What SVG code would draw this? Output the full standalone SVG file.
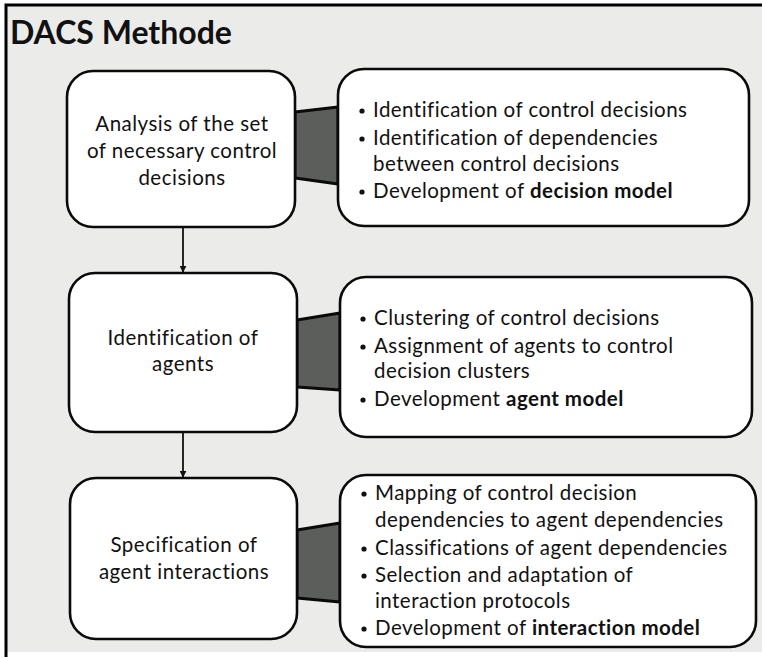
<svg xmlns="http://www.w3.org/2000/svg" width="762" height="659" viewBox="0 0 762 659">
  <defs>
    <style>
      .frame { fill: #ebebea; }
      .edge { stroke: #000; stroke-width: 3; fill: none; }
      .box { fill: #ffffff; stroke: #0a0a0a; stroke-width: 2.6; }
      .link { fill: #5b5e5a; stroke: #0a0a0a; stroke-width: 3; stroke-linejoin: round; }
      .flow { stroke: #111; stroke-width: 1.8; fill: none; }
      text { font-family: Lato, "Open Sans", "Liberation Sans", sans-serif; fill: #111; }
      .title { font-size: 32px; font-weight: bold; }
      .step { font-size: 20.5px; letter-spacing: 0.5px; text-anchor: middle; }
      .item { font-size: 20.5px; letter-spacing: 0.45px; }
      .b { font-weight: bold; }
      .dot { fill: #111; }
    </style>
    <marker id="head" viewBox="0 0 10 10" refX="9" refY="5" markerWidth="7" markerHeight="7" orient="auto" markerUnits="userSpaceOnUse">
      <path d="M0,0 L10,5 L0,10 z" fill="#111"/>
    </marker>
  </defs>

  <!-- slide area -->
  <rect class="frame" x="6" y="5" width="756" height="647"/>
  <path class="edge" d="M6,657 L6,5 L762,5"/>

  <text class="title" x="10" y="44">DACS Methode</text>

  <!-- arrows between steps -->
  <g id="connectors">
    <line class="flow" x1="183" y1="228" x2="183" y2="272" marker-end="url(#head)"/>
    <line class="flow" x1="183" y1="433" x2="183" y2="477" marker-end="url(#head)"/>
  </g>

  <!-- step 1 -->
  <g id="step1">
    <polygon class="link" points="295,112 338,107 338,184 295,178"/>
    <rect class="box" x="67" y="71" width="228" height="156" rx="26"/>
    <text class="step" x="182" y="131">Analysis of the set</text>
    <text class="step" x="182" y="158">of necessary control</text>
    <text class="step" x="182" y="185">decisions</text>
  </g>
  <g id="details1">
    <rect class="box" x="338" y="69" width="411" height="157" rx="26"/>
    <circle class="dot" cx="362" cy="111" r="2.6"/>
    <text class="item" x="373" y="117">Identification of control decisions</text>
    <circle class="dot" cx="362" cy="139" r="2.6"/>
    <text class="item" x="373" y="145">Identification of dependencies</text>
    <text class="item" x="373" y="171">between control decisions</text>
    <circle class="dot" cx="362" cy="192" r="2.6"/>
    <text class="item" x="373" y="198">Development of <tspan class="b">decision model</tspan></text>
  </g>

  <!-- step 2 -->
  <g id="step2">
    <polygon class="link" points="297,320 340,313 340,390 297,387"/>
    <rect class="box" x="69" y="273" width="228" height="159" rx="26"/>
    <text class="step" x="183" y="345">Identification of</text>
    <text class="step" x="183" y="371">agents</text>
  </g>
  <g id="details2">
    <rect class="box" x="340" y="277" width="412" height="160" rx="26"/>
    <circle class="dot" cx="363" cy="319" r="2.6"/>
    <text class="item" x="374" y="325">Clustering of control decisions</text>
    <circle class="dot" cx="363" cy="347" r="2.6"/>
    <text class="item" x="374" y="353">Assignment of agents to control</text>
    <text class="item" x="374" y="378">decision clusters</text>
    <circle class="dot" cx="363" cy="400" r="2.6"/>
    <text class="item" x="374" y="406">Development <tspan class="b">agent model</tspan></text>
  </g>

  <!-- step 3 -->
  <g id="step3">
    <polygon class="link" points="297,530 340,523 340,602 297,598"/>
    <rect class="box" x="70" y="478" width="227" height="161" rx="26"/>
    <text class="step" x="184" y="552">Specification of</text>
    <text class="step" x="184" y="579">agent interactions</text>
  </g>
  <g id="details3">
    <rect class="box" x="340" y="475" width="416" height="172" rx="26"/>
    <circle class="dot" cx="364" cy="494" r="2.6"/>
    <text class="item" x="375" y="500">Mapping of control decision</text>
    <text class="item" x="375" y="527">dependencies to agent dependencies</text>
    <circle class="dot" cx="364" cy="549" r="2.6"/>
    <text class="item" x="375" y="555">Classifications of agent dependencies</text>
    <circle class="dot" cx="364" cy="576" r="2.6"/>
    <text class="item" x="375" y="582">Selection and adaptation of</text>
    <text class="item" x="375" y="608">interaction protocols</text>
    <circle class="dot" cx="364" cy="629" r="2.6"/>
    <text class="item" x="375" y="635">Development of <tspan class="b">interaction model</tspan></text>
  </g>
</svg>
